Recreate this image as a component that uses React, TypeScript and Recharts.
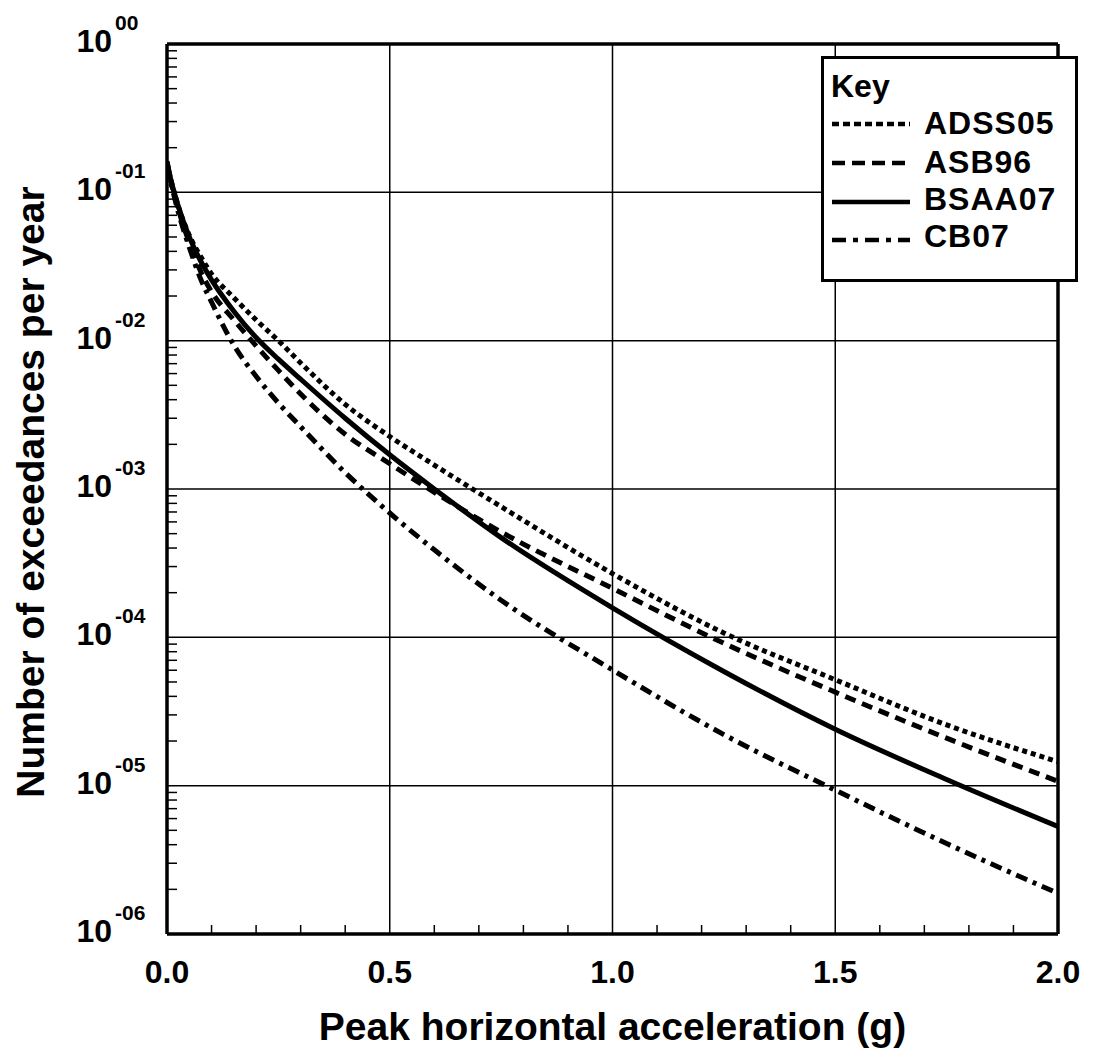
import React from 'react';
import {
  LineChart,
  Line,
  XAxis,
  YAxis,
  ReferenceLine,
  Legend,
  Label,
} from 'recharts';

const FONT = '"Liberation Sans", Arial, sans-serif';

// peak horizontal acceleration (g)
const pga = [0, 0.01, 0.025, 0.05, 0.075, 0.1, 0.15, 0.2, 0.25, 0.3, 0.4, 0.5, 0.6, 0.75, 1.0, 1.25, 1.5, 1.75, 2.0];

// annual exceedance rates
const adss05 = [0.158, 0.117, 0.0813, 0.0513, 0.0372, 0.0282, 0.0195, 0.0138, 0.01, 0.00708, 0.00372, 0.00226, 0.00145, 0.00076, 0.000269, 0.000107, 0.0000518, 0.0000257, 0.0000145];
const asb96 = [0.162, 0.115, 0.0776, 0.0457, 0.0295, 0.0214, 0.0138, 0.00923, 0.0063, 0.00437, 0.00234, 0.00148, 0.00095, 0.000513, 0.000214, 0.0000912, 0.0000427, 0.0000209, 0.0000107];
const bsaa07 = [0.158, 0.117, 0.0813, 0.0501, 0.0347, 0.0257, 0.0158, 0.0105, 0.0075, 0.0055, 0.003, 0.0017, 0.001, 0.00047, 0.000158, 0.0000589, 0.000024, 0.000011, 0.0000053];
const cb07 = [0.151, 0.112, 0.0741, 0.0427, 0.0263, 0.0182, 0.00933, 0.00575, 0.0038, 0.00263, 0.00129, 0.000689, 0.000389, 0.000178, 0.0000603, 0.0000221, 0.00000933, 0.00000407, 0.00000188];

const series = [
  { key: 'ADSS05', values: adss05, dash: '5 4', legendDash: '7 4' },
  { key: 'ASB96', values: asb96, dash: '11 7', legendDash: '13 7' },
  { key: 'BSAA07', values: bsaa07, dash: undefined, legendDash: undefined },
  { key: 'CB07', values: cb07, dash: '12 6 4 6', legendDash: '14 7 5 7' },
];

const xMajor = [0, 0.5, 1.0, 1.5, 2.0];
const xMajorLabels = ['0.0', '0.5', '1.0', '1.5', '2.0'];
const xMinor = [0.1, 0.2, 0.3, 0.4, 0.6, 0.7, 0.8, 0.9, 1.1, 1.2, 1.3, 1.4, 1.6, 1.7, 1.8, 1.9];

const yMajor = [1, 1e-1, 1e-2, 1e-3, 1e-4, 1e-5, 1e-6];
const yMajorExp = ['00', '-01', '-02', '-03', '-04', '-05', '-06'];
const yMinorMult = [2, 3, 4, 5, 6, 7, 8, 9];

const data = pga.map((x, i) => {
  const row: Record<string, number> = { x };
  series.forEach(s => {
    row[s.key] = s.values[i];
  });
  return row;
});

const yMinor: number[] = [];
yMajor.slice(1).forEach(d => yMinorMult.forEach(m => yMinor.push(m * d)));

const xTicks = [...xMajor, ...xMinor].sort((a, b) => a - b);
const yTicks = [...yMajor, ...yMinor].sort((a, b) => a - b);

function XTick(props: any) {
  const { x, y, payload } = props;
  const idx = xMajor.indexOf(payload.value);
  if (idx < 0) {
    return <line x1={x} x2={x} y1={y} y2={y - 9} stroke="#000" strokeWidth={1.5} />;
  }
  return (
    <text x={x} y={y + 49} textAnchor="middle" fontFamily={FONT} fontWeight="bold" fontSize={32} fill="#000">
      {xMajorLabels[idx]}
    </text>
  );
}

function YTick(props: any) {
  const { x, y, payload } = props;
  const idx = yMajor.findIndex(v => Math.abs(v - payload.value) < v * 1e-6);
  if (idx < 0) {
    return <line x1={x} x2={x + 10} y1={y} y2={y} stroke="#000" strokeWidth={1.5} />;
  }
  return (
    <g fontFamily={FONT} fontWeight="bold" fill="#000">
      <text x={x - 55} y={y + 8} textAnchor="end" fontSize={32}>10</text>
      <text x={x - 52} y={y - 14} textAnchor="start" fontSize={21}>{yMajorExp[idx]}</text>
    </g>
  );
}

function KeyBox() {
  const lineY = [68, 107, 146, 184];
  const textY = [78, 117, 154, 191];
  return (
    <svg width={257} height={226} style={{ display: 'block' }}>
      <rect x={1.5} y={1.5} width={254} height={223} fill="#fff" stroke="#000" strokeWidth={3} />
      <text x={10} y={41} fontFamily={FONT} fontWeight="bold" fontSize={32} fill="#000">Key</text>
      {series.map((s, i) => (
        <g key={s.key}>
          <line x1={11} x2={89} y1={lineY[i]} y2={lineY[i]} stroke="#000" strokeWidth={4.5} strokeDasharray={s.legendDash} />
          <text x={103} y={textY[i]} fontFamily={FONT} fontWeight="bold" fontSize={32} letterSpacing={1} fill="#000">
            {s.key}
          </text>
        </g>
      ))}
    </svg>
  );
}

const frame = { stroke: '#000', strokeWidth: 3.5 };

export default function App() {
  return (
    <div style={{ position: 'absolute', left: 0, top: 0, width: 1098, height: 1057, background: '#fff' }}>
      <LineChart
        width={1098}
        height={1057}
        data={data}
        margin={{ top: 44, right: 40, bottom: 23, left: 67 }}
        style={{ fontFamily: FONT }}
      >
        <XAxis
          dataKey="x"
          type="number"
          domain={[0, 2]}
          ticks={xTicks}
          interval={0}
          height={100}
          axisLine={frame}
          tickLine={false}
          tickSize={0}
          tickMargin={0}
          tick={<XTick />}
          allowDataOverflow
        >
          <Label
            content={(p: any) => {
              const vb = p.viewBox;
              return (
                <text x={vb.x + vb.width / 2} y={vb.y + 106} textAnchor="middle" fontFamily={FONT} fontWeight="bold" fontSize={39} fill="#000">
                  Peak horizontal acceleration (g)
                </text>
              );
            }}
          />
        </XAxis>
        <YAxis
          type="number"
          scale="log"
          domain={[1e-6, 1]}
          ticks={yTicks}
          interval={0}
          width={100}
          axisLine={frame}
          tickLine={false}
          tickSize={0}
          tickMargin={0}
          tick={<YTick />}
          allowDataOverflow
        >
          <Label
            content={(p: any) => {
              const vb = p.viewBox;
              const cy = vb.y + vb.height / 2 + 3;
              return (
                <text x={44} y={cy} transform={`rotate(-90 44 ${cy})`} textAnchor="middle" fontFamily={FONT} fontWeight="bold" fontSize={39} fill="#000">
                  Number of exceedances per year
                </text>
              );
            }}
          />
        </YAxis>
        {xMajor.slice(1, -1).map(v => (
          <ReferenceLine key={`gx${v}`} x={v} stroke="#000" strokeWidth={1.5} />
        ))}
        {yMajor.slice(1, -1).map(v => (
          <ReferenceLine key={`gy${v}`} y={v} stroke="#000" strokeWidth={1.5} />
        ))}
        {series.map(s => (
          <Line
            key={s.key}
            dataKey={s.key}
            type="monotone"
            stroke="#000"
            strokeWidth={5}
            strokeDasharray={s.dash}
            dot={false}
            activeDot={false}
            isAnimationActive={false}
          />
        ))}
        <ReferenceLine y={1} stroke="#000" strokeWidth={3.5} />
        <ReferenceLine x={2} stroke="#000" strokeWidth={3.5} />
        <Legend
          layout="vertical"
          align="center"
          verticalAlign="middle"
          content={() => <KeyBox />}
          wrapperStyle={{ left: 821, top: 56, width: 257, height: 226 }}
        />
      </LineChart>
    </div>
  );
}
